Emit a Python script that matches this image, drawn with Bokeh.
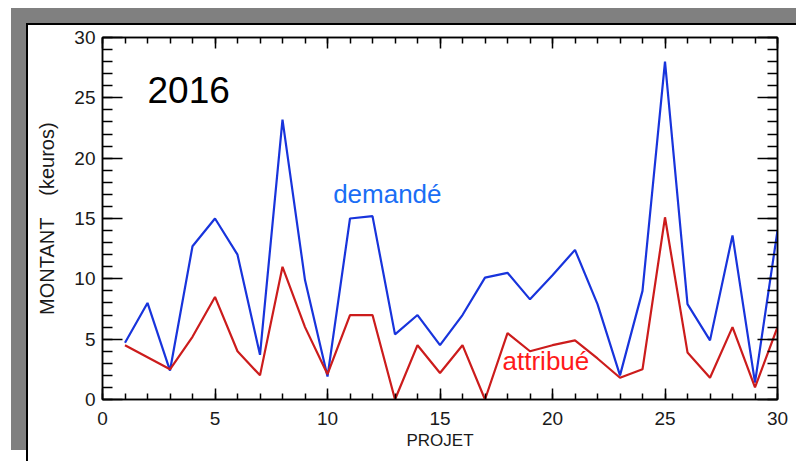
from bokeh.plotting import figure
from bokeh.models import Range1d, LinearAxis, SingleIntervalTicker, Label, CustomJSTickFormatter
from bokeh.embed import file_html
from bokeh.resources import INLINE

# ---- data ----
projet = list(range(1, 31))
demande = [4.7, 8.0, 2.4, 12.7, 15.0, 12.0, 3.7, 23.2, 9.9, 1.9,
           15.0, 15.2, 5.4, 7.0, 4.5, 7.0, 10.1, 10.5, 8.3, 10.3,
           12.4, 7.9, 2.0, 9.0, 28.0, 7.9, 4.9, 13.6, 1.4, 14.0]
attribue = [4.5, 3.5, 2.5, 5.2, 8.5, 4.0, 2.0, 11.0, 6.0, 2.1,
            7.0, 7.0, 0.0, 4.5, 2.2, 4.5, 0.0, 5.5, 4.0, 4.5,
            4.9, 3.4, 1.8, 2.5, 15.1, 3.9, 1.8, 6.0, 1.0, 6.0]
year_label = "2016"
series_labels = ["demandé", "attribué"]
x_title = "PROJET"
y_title = "MONTANT \u00a0\u00a0\u00a0(keuros)"

W, H = 796, 461

p = figure(width=W, height=H, output_backend="svg", toolbar_location=None,
           x_range=Range1d(0, 30), y_range=Range1d(0, 30),
           min_border_left=102, min_border_right=19, min_border_top=37,
           min_border_bottom=62,
           background_fill_color="white", border_fill_color="white",
           border_fill_alpha=0.0,
           outline_line_color="black", outline_line_width=1.5)
p.xgrid.visible = False
p.ygrid.visible = False

# slide frame behind the chart: grey shadow band and black edge (CSS of the host)
p.styles = {
    "background-color": "white",
    "background-image": ("linear-gradient(#808080,#808080), linear-gradient(#808080,#808080), "
                         "linear-gradient(#000,#000), linear-gradient(#000,#000)"),
    "background-position": "11px 8px, 11px 8px, 26px 23px, 26px 23px",
    "background-size": "15px 442px, 785px 15px, 2px 438px, 770px 2px",
    "background-repeat": "no-repeat",
}

bottom_axis = p.below[0]
left_axis = p.left[0]
bottom_axis.axis_label = x_title
left_axis.axis_label = y_title

blank = CustomJSTickFormatter(code="return ''")
top_axis = LinearAxis(formatter=blank)
right_axis = LinearAxis(formatter=blank)
p.add_layout(top_axis, "above")
p.add_layout(right_axis, "right")

for ax in [bottom_axis, top_axis]:
    ax.ticker = SingleIntervalTicker(interval=5, num_minor_ticks=5)
    ax.major_tick_in = 11
    ax.minor_tick_in = 6
for ax in [left_axis, right_axis]:
    ax.ticker = SingleIntervalTicker(interval=5, num_minor_ticks=5)
    ax.major_tick_in = 20
    ax.minor_tick_in = 10

for ax in [bottom_axis, top_axis, left_axis, right_axis]:
    ax.major_tick_out = 0
    ax.minor_tick_out = 0
    ax.axis_line_color = "black"
    ax.axis_line_width = 1.5
    ax.major_tick_line_color = "black"
    ax.minor_tick_line_color = "black"
    ax.major_tick_line_width = 1.5
    ax.minor_tick_line_width = 1.5
    ax.major_label_text_font = "Liberation Sans"
    ax.major_label_text_font_size = "19px"
    ax.major_label_text_color = "#1a1a1a"
    ax.axis_label_text_font = "Liberation Sans"
    ax.axis_label_text_font_style = "normal"
    ax.axis_label_text_color = "#1a1a1a"

for ax in [top_axis, right_axis]:
    ax.major_label_standoff = 0

bottom_axis.major_label_standoff = 12
bottom_axis.axis_label_standoff = 3
bottom_axis.axis_label_text_font_size = "17px"

left_axis.major_label_standoff = 7
left_axis.axis_label_standoff = 13
left_axis.axis_label_text_font_size = "20px"

p.line(projet, demande, line_color="#1834dc", line_width=2.2)
p.line(projet, attribue, line_color="#cc1c1c", line_width=2.2)

p.add_layout(Label(x=2.0, y=24.6, text=year_label, text_font="Liberation Sans",
                   text_font_size="37px", text_color="black"))
p.add_layout(Label(x=10.25, y=15.8, text=series_labels[0], text_font="Liberation Sans",
                   text_font_size="26px", text_color="#1a6ef5"))
p.add_layout(Label(x=17.78, y=1.93, text=series_labels[1], text_font="Liberation Sans",
                   text_font_size="26px", text_color="#ff1a1a"))

open("out.html", "w").write(file_html(p, INLINE))
